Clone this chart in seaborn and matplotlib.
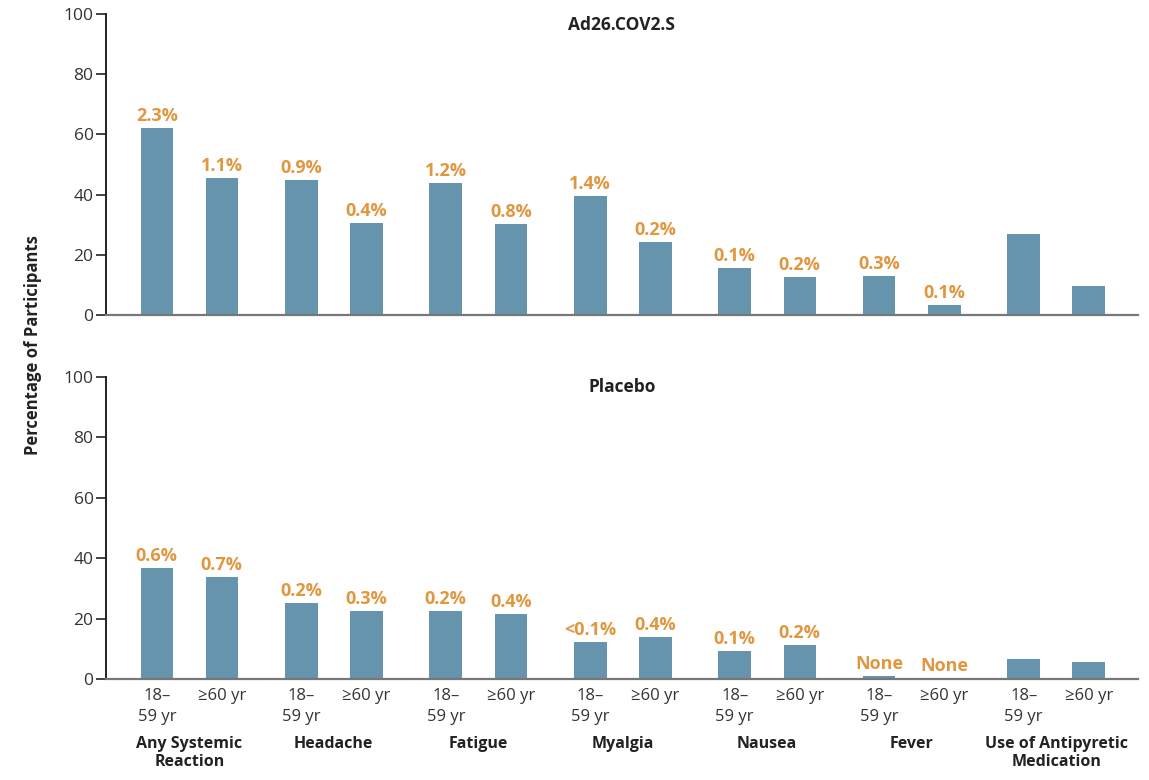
import numpy as np
import pandas as pd
import matplotlib
matplotlib.use("Agg")
import matplotlib.pyplot as plt
import matplotlib.transforms as mtransforms
import seaborn as sb

# Data
groups = ["Any Systemic\nReaction", "Headache", "Fatigue", "Myalgia", "Nausea", "Fever",
          "Use of Antipyretic\nMedication"]
ages = ["18–\n59 yr", "≥60 yr"]

vaccine_young = [62.1, 44.9, 43.9, 39.5, 15.6, 13.0, 26.9]
vaccine_old = [45.5, 30.6, 30.2, 24.3, 12.6, 3.3, 9.6]
placebo_young = [36.8, 25.2, 22.5, 12.3, 9.3, 1.0, 6.6]
placebo_old = [33.8, 22.5, 21.5, 13.9, 11.3, 0.3, 5.6]

# severe (grade 3) percentages shown above bars
vaccine_young_lbl = ["2.3%", "0.9%", "1.2%", "1.4%", "0.1%", "0.3%", ""]
vaccine_old_lbl = ["1.1%", "0.4%", "0.8%", "0.2%", "0.2%", "0.1%", ""]
placebo_young_lbl = ["0.6%", "0.2%", "0.2%", "<0.1%", "0.1%", "None", ""]
placebo_old_lbl = ["0.7%", "0.3%", "0.4%", "0.4%", "0.2%", "None", ""]

bar_color = "#6694ad"
label_color = "#e0973f"

sb.set_style("white")
plt.rcParams["font.family"] = ["Open Sans", "DejaVu Sans"]

fig = plt.figure(figsize=(11.49, 7.8), dpi=100)
ax_top = fig.add_axes([0.0923, 0.596, 0.8977, 0.386])
ax_bot = fig.add_axes([0.0923, 0.1295, 0.8977, 0.3875])

panels = [
    (ax_top, "Ad26.COV2.S", vaccine_young, vaccine_old, vaccine_young_lbl, vaccine_old_lbl),
    (ax_bot, "Placebo", placebo_young, placebo_old, placebo_young_lbl, placebo_old_lbl),
]

for ax, title, young, old, young_lbl, old_lbl in panels:
    df = pd.DataFrame({
        "group": groups * 2,
        "age": [ages[0]] * len(groups) + [ages[1]] * len(groups),
        "pct": young + old,
        "lbl": young_lbl + old_lbl,
    })
    sb.barplot(data=df, x="group", y="pct", hue="age", order=groups, hue_order=ages,
               palette=[bar_color, bar_color], width=0.9, gap=0.5, legend=False,
               saturation=1, ax=ax, linewidth=0)

    # annotate bars and collect centres for tick labels
    centers, tick_lbls = [], []
    for k, cont in enumerate(ax.containers):
        lbls = young_lbl if k == 0 else old_lbl
        for bar, txt in zip(cont, lbls):
            cx = bar.get_x() + bar.get_width() / 2
            centers.append(cx)
            tick_lbls.append(ages[k])
            if txt:
                ax.text(cx, bar.get_height() + 1.0, txt, ha="center", va="bottom",
                        color=label_color, fontsize=13, fontweight="bold")

    ax.set_ylim(0, 100)
    ax.set_xlim(-0.576, 6.5625)
    ax.set_yticks([0, 20, 40, 60, 80, 100])
    ax.tick_params(axis="y", left=True, length=7, width=1.2, color="#222222",
                   labelsize=12.5, labelcolor="#333333", pad=2)
    ax.set_xlabel("")
    ax.set_ylabel("")
    for s in ["top", "right"]:
        ax.spines[s].set_visible(False)
    ax.spines["left"].set_color("#222222")
    ax.spines["left"].set_linewidth(1.4)
    ax.spines["bottom"].set_color("#777777")
    ax.spines["bottom"].set_linewidth(1.6)
    ax.text(0.5, 0.965, title, transform=ax.transAxes, ha="center", va="center",
            fontsize=12.5, fontweight="bold", color="#222222")

    if ax is ax_bot:
        ax.set_xticks(centers)
        ax.set_xticklabels(tick_lbls, fontsize=12, color="#333333", va="top",
                           linespacing=1.4)
        ax.tick_params(axis="x", bottom=False, pad=3)
        trans = mtransforms.blended_transform_factory(ax.transData, ax.transAxes)
        for i, g in enumerate(groups):
            ax.text(i, -0.19, g, transform=trans, ha="center", va="top",
                    fontsize=11.5, fontweight="bold", color="#222222", linespacing=1.15)
    else:
        ax.set_xticks([])

fig.text(0.029, 0.557, "Percentage of Participants", rotation=90, ha="center",
         va="center", fontsize=12, fontweight="bold", color="#222222")

fig.savefig("out.png", dpi=100, facecolor="white")
